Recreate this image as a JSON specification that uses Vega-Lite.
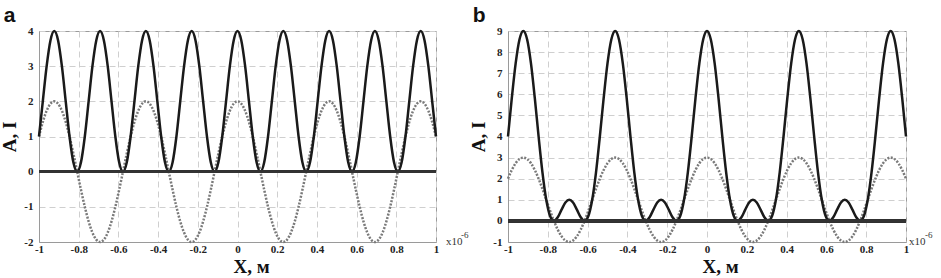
{
"$schema": "https://vega.github.io/schema/vega-lite/v6.json",
"padding": {"left": 0, "top": 4, "right": 0, "bottom": 0},
"background": "white",
"spacing": 72,
"bounds": "flush",
"data": {"values": [
{"x":-1,"aA":1,"aI":1,"bA":2,"bI":4},
{"x":-0.9808,"aA":1.414,"aI":2,"bA":2.414,"bI":5.828},
{"x":-0.9615,"aA":1.732,"aI":3,"bA":2.732,"bI":7.464},
{"x":-0.9423,"aA":1.932,"aI":3.732,"bA":2.932,"bI":8.596},
{"x":-0.9231,"aA":2,"aI":4,"bA":3,"bI":9},
{"x":-0.9038,"aA":1.932,"aI":3.732,"bA":2.932,"bI":8.596},
{"x":-0.8846,"aA":1.732,"aI":3,"bA":2.732,"bI":7.464},
{"x":-0.8654,"aA":1.414,"aI":2,"bA":2.414,"bI":5.828},
{"x":-0.8462,"aA":1,"aI":1,"bA":2,"bI":4},
{"x":-0.8269,"aA":0.518,"aI":0.268,"bA":1.518,"bI":2.303},
{"x":-0.8077,"aA":0,"aI":0,"bA":1,"bI":1},
{"x":-0.7885,"aA":-0.518,"aI":0.268,"bA":0.482,"bI":0.232},
{"x":-0.7692,"aA":-1,"aI":1,"bA":0,"bI":0},
{"x":-0.75,"aA":-1.414,"aI":2,"bA":-0.414,"bI":0.172},
{"x":-0.7308,"aA":-1.732,"aI":3,"bA":-0.732,"bI":0.536},
{"x":-0.7115,"aA":-1.932,"aI":3.732,"bA":-0.932,"bI":0.868},
{"x":-0.6923,"aA":-2,"aI":4,"bA":-1,"bI":1},
{"x":-0.6731,"aA":-1.932,"aI":3.732,"bA":-0.932,"bI":0.868},
{"x":-0.6538,"aA":-1.732,"aI":3,"bA":-0.732,"bI":0.536},
{"x":-0.6346,"aA":-1.414,"aI":2,"bA":-0.414,"bI":0.172},
{"x":-0.6154,"aA":-1,"aI":1,"bA":0,"bI":0},
{"x":-0.5962,"aA":-0.518,"aI":0.268,"bA":0.482,"bI":0.232},
{"x":-0.5769,"aA":0,"aI":0,"bA":1,"bI":1},
{"x":-0.5577,"aA":0.518,"aI":0.268,"bA":1.518,"bI":2.303},
{"x":-0.5385,"aA":1,"aI":1,"bA":2,"bI":4},
{"x":-0.5192,"aA":1.414,"aI":2,"bA":2.414,"bI":5.828},
{"x":-0.5,"aA":1.732,"aI":3,"bA":2.732,"bI":7.464},
{"x":-0.4808,"aA":1.932,"aI":3.732,"bA":2.932,"bI":8.596},
{"x":-0.4615,"aA":2,"aI":4,"bA":3,"bI":9},
{"x":-0.4423,"aA":1.932,"aI":3.732,"bA":2.932,"bI":8.596},
{"x":-0.4231,"aA":1.732,"aI":3,"bA":2.732,"bI":7.464},
{"x":-0.4038,"aA":1.414,"aI":2,"bA":2.414,"bI":5.828},
{"x":-0.3846,"aA":1,"aI":1,"bA":2,"bI":4},
{"x":-0.3654,"aA":0.518,"aI":0.268,"bA":1.518,"bI":2.303},
{"x":-0.3462,"aA":0,"aI":0,"bA":1,"bI":1},
{"x":-0.3269,"aA":-0.518,"aI":0.268,"bA":0.482,"bI":0.232},
{"x":-0.3077,"aA":-1,"aI":1,"bA":0,"bI":0},
{"x":-0.2885,"aA":-1.414,"aI":2,"bA":-0.414,"bI":0.172},
{"x":-0.2692,"aA":-1.732,"aI":3,"bA":-0.732,"bI":0.536},
{"x":-0.25,"aA":-1.932,"aI":3.732,"bA":-0.932,"bI":0.868},
{"x":-0.2308,"aA":-2,"aI":4,"bA":-1,"bI":1},
{"x":-0.2115,"aA":-1.932,"aI":3.732,"bA":-0.932,"bI":0.868},
{"x":-0.1923,"aA":-1.732,"aI":3,"bA":-0.732,"bI":0.536},
{"x":-0.1731,"aA":-1.414,"aI":2,"bA":-0.414,"bI":0.172},
{"x":-0.1538,"aA":-1,"aI":1,"bA":0,"bI":0},
{"x":-0.1346,"aA":-0.518,"aI":0.268,"bA":0.482,"bI":0.232},
{"x":-0.1154,"aA":0,"aI":0,"bA":1,"bI":1},
{"x":-0.0962,"aA":0.518,"aI":0.268,"bA":1.518,"bI":2.303},
{"x":-0.0769,"aA":1,"aI":1,"bA":2,"bI":4},
{"x":-0.0577,"aA":1.414,"aI":2,"bA":2.414,"bI":5.828},
{"x":-0.0385,"aA":1.732,"aI":3,"bA":2.732,"bI":7.464},
{"x":-0.0192,"aA":1.932,"aI":3.732,"bA":2.932,"bI":8.596},
{"x":0,"aA":2,"aI":4,"bA":3,"bI":9},
{"x":0.0192,"aA":1.932,"aI":3.732,"bA":2.932,"bI":8.596},
{"x":0.0385,"aA":1.732,"aI":3,"bA":2.732,"bI":7.464},
{"x":0.0577,"aA":1.414,"aI":2,"bA":2.414,"bI":5.828},
{"x":0.0769,"aA":1,"aI":1,"bA":2,"bI":4},
{"x":0.0962,"aA":0.518,"aI":0.268,"bA":1.518,"bI":2.303},
{"x":0.1154,"aA":0,"aI":0,"bA":1,"bI":1},
{"x":0.1346,"aA":-0.518,"aI":0.268,"bA":0.482,"bI":0.232},
{"x":0.1538,"aA":-1,"aI":1,"bA":0,"bI":0},
{"x":0.1731,"aA":-1.414,"aI":2,"bA":-0.414,"bI":0.172},
{"x":0.1923,"aA":-1.732,"aI":3,"bA":-0.732,"bI":0.536},
{"x":0.2115,"aA":-1.932,"aI":3.732,"bA":-0.932,"bI":0.868},
{"x":0.2308,"aA":-2,"aI":4,"bA":-1,"bI":1},
{"x":0.25,"aA":-1.932,"aI":3.732,"bA":-0.932,"bI":0.868},
{"x":0.2692,"aA":-1.732,"aI":3,"bA":-0.732,"bI":0.536},
{"x":0.2885,"aA":-1.414,"aI":2,"bA":-0.414,"bI":0.172},
{"x":0.3077,"aA":-1,"aI":1,"bA":0,"bI":0},
{"x":0.3269,"aA":-0.518,"aI":0.268,"bA":0.482,"bI":0.232},
{"x":0.3462,"aA":0,"aI":0,"bA":1,"bI":1},
{"x":0.3654,"aA":0.518,"aI":0.268,"bA":1.518,"bI":2.303},
{"x":0.3846,"aA":1,"aI":1,"bA":2,"bI":4},
{"x":0.4038,"aA":1.414,"aI":2,"bA":2.414,"bI":5.828},
{"x":0.4231,"aA":1.732,"aI":3,"bA":2.732,"bI":7.464},
{"x":0.4423,"aA":1.932,"aI":3.732,"bA":2.932,"bI":8.596},
{"x":0.4615,"aA":2,"aI":4,"bA":3,"bI":9},
{"x":0.4808,"aA":1.932,"aI":3.732,"bA":2.932,"bI":8.596},
{"x":0.5,"aA":1.732,"aI":3,"bA":2.732,"bI":7.464},
{"x":0.5192,"aA":1.414,"aI":2,"bA":2.414,"bI":5.828},
{"x":0.5385,"aA":1,"aI":1,"bA":2,"bI":4},
{"x":0.5577,"aA":0.518,"aI":0.268,"bA":1.518,"bI":2.303},
{"x":0.5769,"aA":0,"aI":0,"bA":1,"bI":1},
{"x":0.5962,"aA":-0.518,"aI":0.268,"bA":0.482,"bI":0.232},
{"x":0.6154,"aA":-1,"aI":1,"bA":0,"bI":0},
{"x":0.6346,"aA":-1.414,"aI":2,"bA":-0.414,"bI":0.172},
{"x":0.6538,"aA":-1.732,"aI":3,"bA":-0.732,"bI":0.536},
{"x":0.6731,"aA":-1.932,"aI":3.732,"bA":-0.932,"bI":0.868},
{"x":0.6923,"aA":-2,"aI":4,"bA":-1,"bI":1},
{"x":0.7115,"aA":-1.932,"aI":3.732,"bA":-0.932,"bI":0.868},
{"x":0.7308,"aA":-1.732,"aI":3,"bA":-0.732,"bI":0.536},
{"x":0.75,"aA":-1.414,"aI":2,"bA":-0.414,"bI":0.172},
{"x":0.7692,"aA":-1,"aI":1,"bA":0,"bI":0},
{"x":0.7885,"aA":-0.518,"aI":0.268,"bA":0.482,"bI":0.232},
{"x":0.8077,"aA":0,"aI":0,"bA":1,"bI":1},
{"x":0.8269,"aA":0.518,"aI":0.268,"bA":1.518,"bI":2.303},
{"x":0.8462,"aA":1,"aI":1,"bA":2,"bI":4},
{"x":0.8654,"aA":1.414,"aI":2,"bA":2.414,"bI":5.828},
{"x":0.8846,"aA":1.732,"aI":3,"bA":2.732,"bI":7.464},
{"x":0.9038,"aA":1.932,"aI":3.732,"bA":2.932,"bI":8.596},
{"x":0.9231,"aA":2,"aI":4,"bA":3,"bI":9},
{"x":0.9423,"aA":1.932,"aI":3.732,"bA":2.932,"bI":8.596},
{"x":0.9615,"aA":1.732,"aI":3,"bA":2.732,"bI":7.464},
{"x":0.9808,"aA":1.414,"aI":2,"bA":2.414,"bI":5.828},
{"x":1,"aA":1,"aI":1,"bA":2,"bI":4}
]},
"config": {
  "view": {"stroke": "#9a9a9a", "strokeWidth": 1},
  "axis": {
    "ticks": false, "grid": true, "gridColor": "#cfcfcf", "gridDash": [6, 4], "gridWidth": 1,
    "domainColor": "#9a9a9a", "labelOverlap": false, "labelSeparation": 0, "labelBound": false, "labelFlush": false,
    "labelFont": "Liberation Serif", "labelFontWeight": "bold", "labelFontSize": 11, "labelColor": "#222",
    "titleFont": "Liberation Serif", "titleFontWeight": "bold", "titleFontSize": 19, "titleColor": "#111"
  },
  "title": {"anchor": "start", "font": "Liberation Sans", "fontSize": 21, "fontWeight": "bold", "color": "#111", "offset": -1, "dx": 3}
},
"hconcat": [
{
  "width": 397, "height": 211,
  "title": "a",
  "layer": [
    {"mark": {"type": "line", "color": "#7a7a7a", "strokeWidth": 2.5, "strokeDash": [2, 1.5], "interpolate": "monotone"},
     "encoding": {
       "x": {"field": "x", "type": "quantitative", "scale": {"domain": [-1, 1], "nice": false},
             "axis": {"values": [-1, -0.8, -0.6, -0.4, -0.2, 0, 0.2, 0.4, 0.6, 0.8, 1], "labelOverlap": false, "labelExpr": "replace(format(datum.value, '~g'), '\u2212', '-')", "title": "X, м", "titleX": 194, "titleAlign": "left", "labelPadding": 1, "titlePadding": 3}},
       "y": {"field": "aA", "type": "quantitative", "scale": {"domain": [-2, 4], "nice": false},
             "axis": {"values": [-2, -1, 0, 1, 2, 3, 4], "labelOverlap": false, "labelExpr": "replace(format(datum.value, '~g'), '\u2212', '-')", "title": "A, I", "labelPadding": 6, "titlePadding": 4}}
     }},
    {"mark": {"type": "line", "color": "#1a1a1a", "strokeWidth": 2.5, "interpolate": "monotone"},
     "encoding": {
       "x": {"field": "x", "type": "quantitative",
             "axis": {"values": [-1, -0.8, -0.6, -0.4, -0.2, 0, 0.2, 0.4, 0.6, 0.8, 1], "labelOverlap": false, "labelExpr": "replace(format(datum.value, '~g'), '\u2212', '-')", "title": "X, м", "titleX": 194, "titleAlign": "left", "labelPadding": 1, "titlePadding": 3}},
       "y": {"field": "aI", "type": "quantitative",
             "axis": {"values": [-2, -1, 0, 1, 2, 3, 4], "labelOverlap": false, "labelExpr": "replace(format(datum.value, '~g'), '\u2212', '-')", "title": "A, I", "labelPadding": 6, "titlePadding": 4}}
     }},
    {"mark": {"type": "rule", "color": "#333333", "strokeWidth": 2.5},
     "encoding": {"y": {"datum": 0, "axis": {"values": [-2, -1, 0, 1, 2, 3, 4], "labelOverlap": false, "labelExpr": "replace(format(datum.value, '~g'), '\u2212', '-')", "title": "A, I", "labelPadding": 6, "titlePadding": 4}}}},
    {"data": {"values": [{"t": "x10"}]},
     "mark": {"type": "text", "align": "left", "baseline": "alphabetic", "dx": 10, "dy": 3, "font": "Liberation Serif", "fontSize": 11, "color": "#333"},
     "encoding": {"text": {"field": "t"},
       "x": {"datum": 1, "axis": {"values": [-1, -0.8, -0.6, -0.4, -0.2, 0, 0.2, 0.4, 0.6, 0.8, 1], "labelOverlap": false, "labelExpr": "replace(format(datum.value, '~g'), '\u2212', '-')", "title": "X, м", "titleX": 194, "titleAlign": "left", "labelPadding": 1, "titlePadding": 3}},
       "y": {"datum": -2, "axis": {"values": [-2, -1, 0, 1, 2, 3, 4], "labelOverlap": false, "labelExpr": "replace(format(datum.value, '~g'), '\u2212', '-')", "title": "A, I", "labelPadding": 6, "titlePadding": 4}}}},
    {"data": {"values": [{"t": "-6"}]},
     "mark": {"type": "text", "align": "left", "baseline": "alphabetic", "dx": 25, "dy": -4, "font": "Liberation Serif", "fontSize": 9, "color": "#333"},
     "encoding": {"text": {"field": "t"},
       "x": {"datum": 1, "axis": {"values": [-1, -0.8, -0.6, -0.4, -0.2, 0, 0.2, 0.4, 0.6, 0.8, 1], "labelOverlap": false, "labelExpr": "replace(format(datum.value, '~g'), '\u2212', '-')", "title": "X, м", "titleX": 194, "titleAlign": "left", "labelPadding": 1, "titlePadding": 3}},
       "y": {"datum": -2, "axis": {"values": [-2, -1, 0, 1, 2, 3, 4], "labelOverlap": false, "labelExpr": "replace(format(datum.value, '~g'), '\u2212', '-')", "title": "A, I", "labelPadding": 6, "titlePadding": 4}}}}
  ]
},
{
  "width": 398, "height": 211,
  "title": "b",
  "layer": [
    {"mark": {"type": "line", "color": "#7a7a7a", "strokeWidth": 2.5, "strokeDash": [2, 1.5], "interpolate": "monotone"},
     "encoding": {
       "x": {"field": "x", "type": "quantitative", "scale": {"domain": [-1, 1], "nice": false},
             "axis": {"values": [-1, -0.8, -0.6, -0.4, -0.2, 0, 0.2, 0.4, 0.6, 0.8, 1], "labelOverlap": false, "labelExpr": "replace(format(datum.value, '~g'), '\u2212', '-')", "title": "X, м", "titleX": 194, "titleAlign": "left", "labelPadding": 1, "titlePadding": 3}},
       "y": {"field": "bA", "type": "quantitative", "scale": {"domain": [-1, 9], "nice": false},
             "axis": {"values": [-1, 0, 1, 2, 3, 4, 5, 6, 7, 8, 9], "labelOverlap": false, "labelExpr": "replace(format(datum.value, '~g'), '\u2212', '-')", "title": "A, I", "labelPadding": 6, "titlePadding": 4}}
     }},
    {"mark": {"type": "line", "color": "#1a1a1a", "strokeWidth": 2.5, "interpolate": "monotone"},
     "encoding": {
       "x": {"field": "x", "type": "quantitative",
             "axis": {"values": [-1, -0.8, -0.6, -0.4, -0.2, 0, 0.2, 0.4, 0.6, 0.8, 1], "labelOverlap": false, "labelExpr": "replace(format(datum.value, '~g'), '\u2212', '-')", "title": "X, м", "titleX": 194, "titleAlign": "left", "labelPadding": 1, "titlePadding": 3}},
       "y": {"field": "bI", "type": "quantitative",
             "axis": {"values": [-1, 0, 1, 2, 3, 4, 5, 6, 7, 8, 9], "labelOverlap": false, "labelExpr": "replace(format(datum.value, '~g'), '\u2212', '-')", "title": "A, I", "labelPadding": 6, "titlePadding": 4}}
     }},
    {"mark": {"type": "rule", "color": "#333333", "strokeWidth": 2.5},
     "encoding": {"y": {"datum": 0, "axis": {"values": [-1, 0, 1, 2, 3, 4, 5, 6, 7, 8, 9], "labelOverlap": false, "labelExpr": "replace(format(datum.value, '~g'), '\u2212', '-')", "title": "A, I", "labelPadding": 6, "titlePadding": 4}}}},
    {"data": {"values": [{"t": "x10"}]},
     "mark": {"type": "text", "align": "left", "baseline": "alphabetic", "dx": 3, "dy": 3, "font": "Liberation Serif", "fontSize": 11, "color": "#333"},
     "encoding": {"text": {"field": "t"},
       "x": {"datum": 1, "axis": {"values": [-1, -0.8, -0.6, -0.4, -0.2, 0, 0.2, 0.4, 0.6, 0.8, 1], "labelOverlap": false, "labelExpr": "replace(format(datum.value, '~g'), '\u2212', '-')", "title": "X, м", "titleX": 194, "titleAlign": "left", "labelPadding": 1, "titlePadding": 3}},
       "y": {"datum": -1, "axis": {"values": [-1, 0, 1, 2, 3, 4, 5, 6, 7, 8, 9], "labelOverlap": false, "labelExpr": "replace(format(datum.value, '~g'), '\u2212', '-')", "title": "A, I", "labelPadding": 6, "titlePadding": 4}}}},
    {"data": {"values": [{"t": "-6"}]},
     "mark": {"type": "text", "align": "left", "baseline": "alphabetic", "dx": 19, "dy": -4, "font": "Liberation Serif", "fontSize": 9, "color": "#333"},
     "encoding": {"text": {"field": "t"},
       "x": {"datum": 1, "axis": {"values": [-1, -0.8, -0.6, -0.4, -0.2, 0, 0.2, 0.4, 0.6, 0.8, 1], "labelOverlap": false, "labelExpr": "replace(format(datum.value, '~g'), '\u2212', '-')", "title": "X, м", "titleX": 194, "titleAlign": "left", "labelPadding": 1, "titlePadding": 3}},
       "y": {"datum": -1, "axis": {"values": [-1, 0, 1, 2, 3, 4, 5, 6, 7, 8, 9], "labelOverlap": false, "labelExpr": "replace(format(datum.value, '~g'), '\u2212', '-')", "title": "A, I", "labelPadding": 6, "titlePadding": 4}}}}
  ]
}
]
}
